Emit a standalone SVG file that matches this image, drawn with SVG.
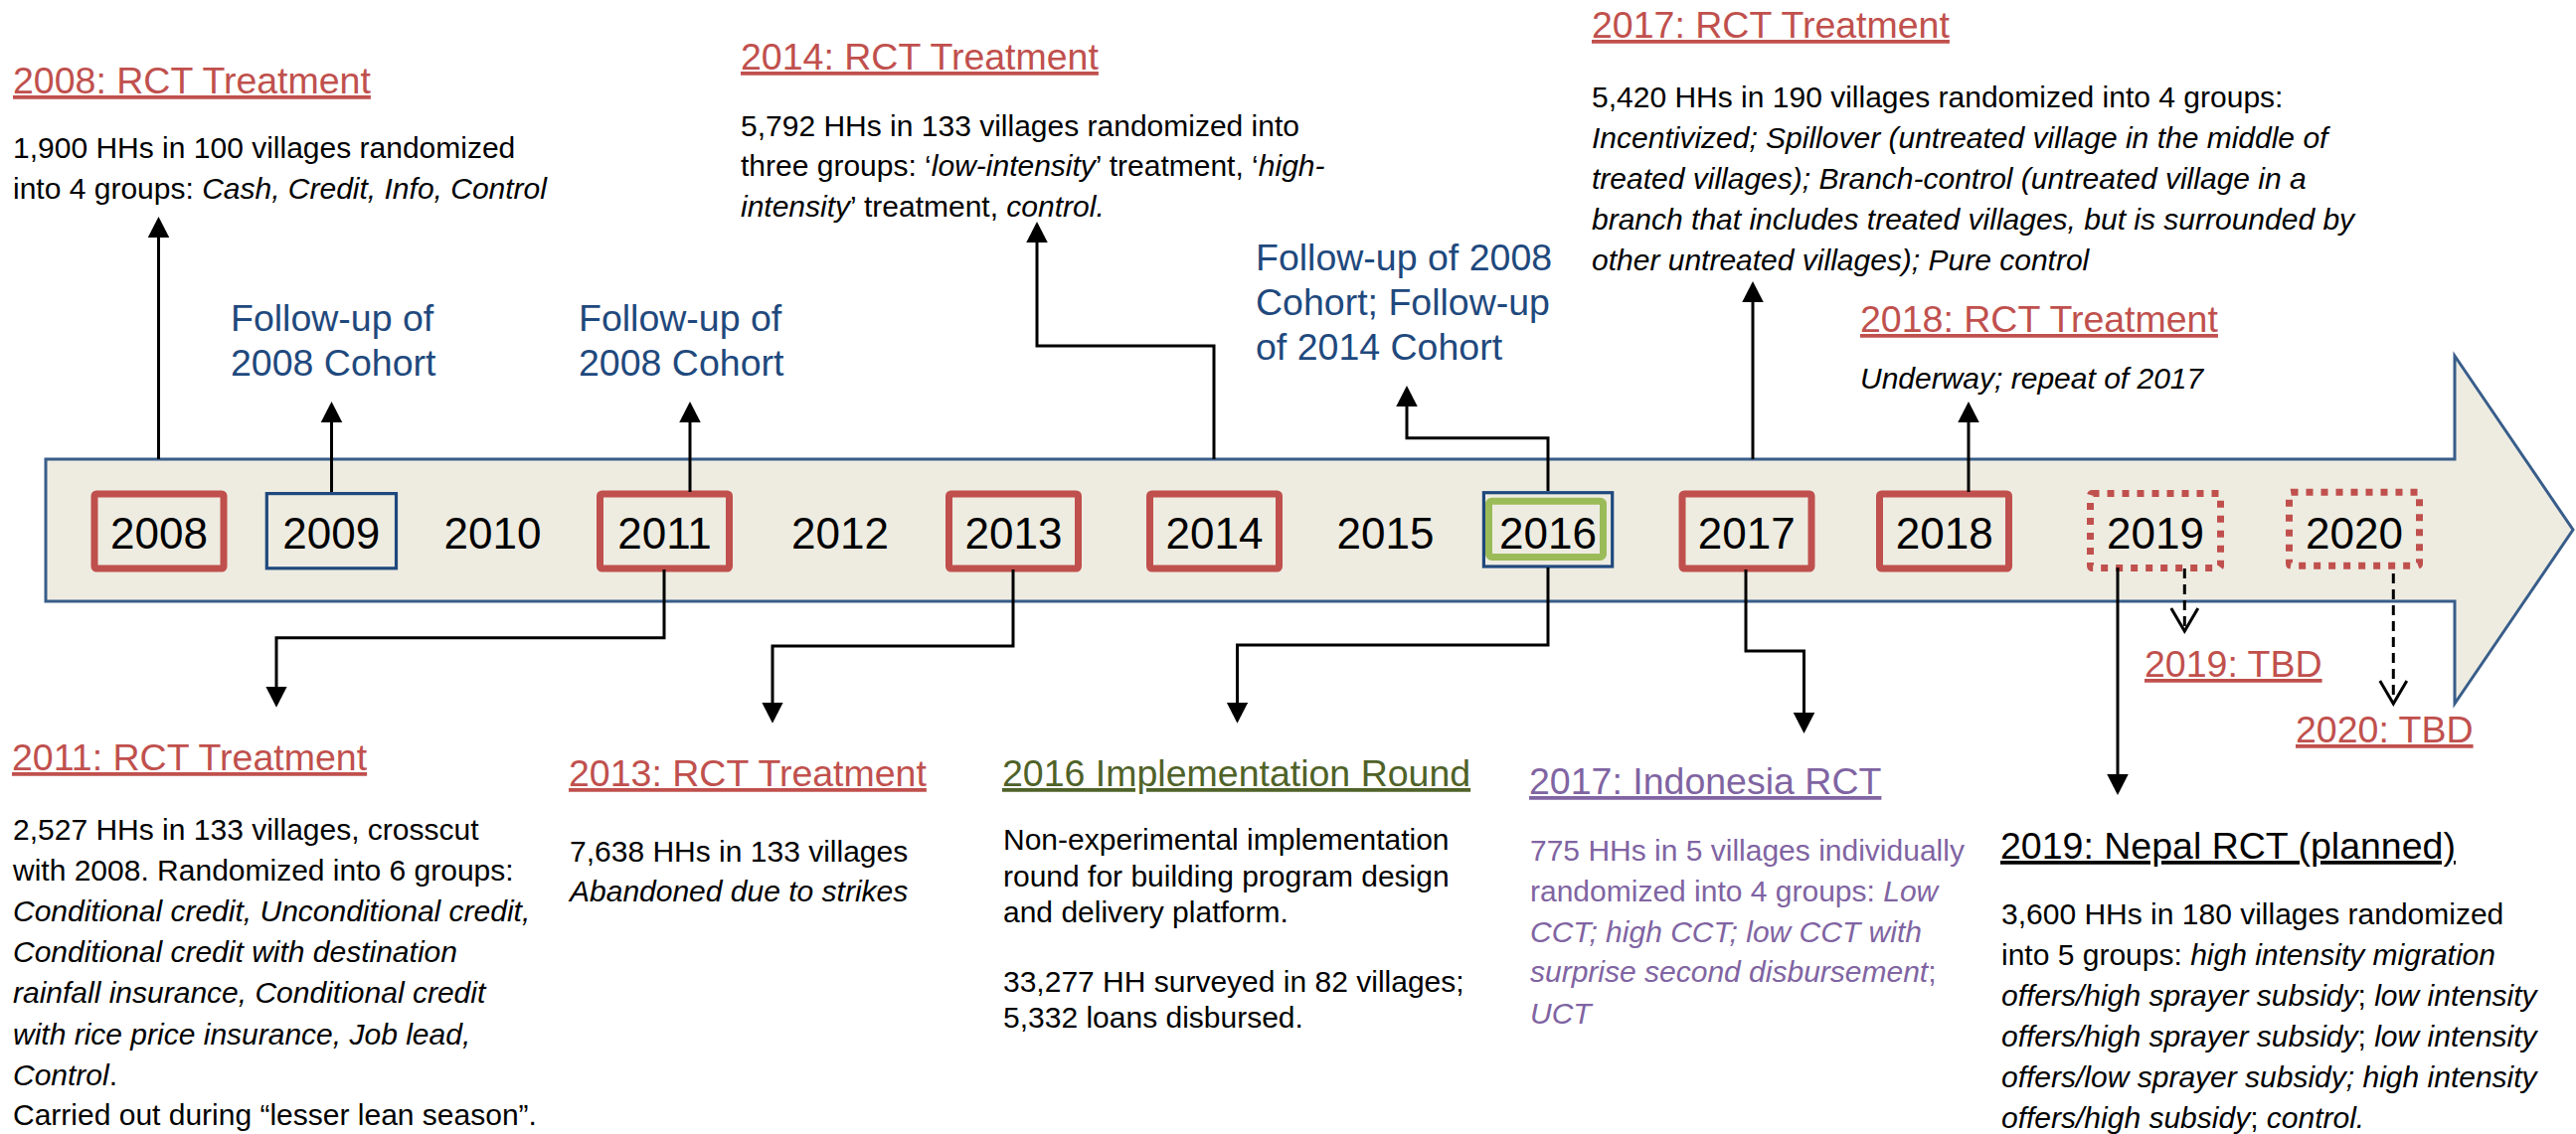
<svg xmlns="http://www.w3.org/2000/svg" width="2591" height="1141" viewBox="0 0 2591 1141">
<defs>
<style>
text{font-family:"Liberation Sans",Arial,sans-serif;}
.title{font-size:37.5px;text-decoration:underline;}
.red{fill:#C0504D;}
.green{fill:#4F6228;}
.purple{fill:#8064A2;}
.blk{fill:#000;}
.body{font-size:30px;}
.i{font-style:italic;}
.fu{font-size:37.5px;fill:#1F497D;}
.yr{font-size:44px;text-anchor:middle;fill:#000;}
.boxr{fill:none;stroke:#C0504D;stroke-width:7;}
.boxb{fill:none;stroke:#1F497D;stroke-width:3.2;}
.boxg{fill:none;stroke:#9BBB59;stroke-width:7;}
.boxd{fill:none;stroke:#C0504D;stroke-width:7;stroke-dasharray:7 8;}
.conn{fill:none;stroke:#000;stroke-width:3;marker-end:url(#ah);}
.dash{fill:none;stroke:#000;stroke-width:3;stroke-dasharray:10 6;marker-end:url(#oh);}
</style>
<marker id="ah" markerUnits="userSpaceOnUse" markerWidth="22" markerHeight="22" refX="13" refY="10.75" orient="auto"><path d="M0,0 L21,10.75 L0,21.5 z" fill="#000"/></marker>
<marker id="oh" markerUnits="userSpaceOnUse" markerWidth="30" markerHeight="30" refX="23" refY="15" orient="auto"><path d="M1,1.5 L24,15 L1,28.5" fill="none" stroke="#000" stroke-width="3" stroke-dasharray="none"/></marker>
</defs>

<g id="timeline">
<polygon points="46,462 2469,462 2469,358 2588,533 2469,708 2469,605 46,605" fill="#EEECE1" stroke="#385D8A" stroke-width="3"/>
</g>

<g id="year-2008"><rect class="boxr" x="95" y="497" width="130" height="75" rx="2"/><text class="yr" x="160" y="551.5">2008</text></g>
<g id="year-2009"><rect class="boxb" x="268.3" y="496.6" width="130.2" height="75.2"/><text class="yr" x="333.3" y="551.5">2009</text></g>
<g id="year-2010"><text class="yr" x="495.5" y="551.5">2010</text></g>
<g id="year-2011"><rect class="boxr" x="603.5" y="497" width="130" height="75" rx="2"/><text class="yr" x="668.5" y="551.5">2011</text></g>
<g id="year-2012"><text class="yr" x="845" y="551.5">2012</text></g>
<g id="year-2013"><rect class="boxr" x="954.5" y="497" width="130" height="75" rx="2"/><text class="yr" x="1019.5" y="551.5">2013</text></g>
<g id="year-2014"><rect class="boxr" x="1156.5" y="497" width="130" height="75" rx="2"/><text class="yr" x="1221.5" y="551.5">2014</text></g>
<g id="year-2015"><text class="yr" x="1393.5" y="551.5">2015</text></g>
<g id="year-2016"><rect class="boxb" x="1492.4" y="495.7" width="129.3" height="74.3"/><rect class="boxg" x="1497.5" y="504.2" width="115" height="56.3" rx="3"/><text class="yr" x="1557" y="551.5">2016</text></g>
<g id="year-2017"><rect class="boxr" x="1692" y="497" width="130" height="75" rx="2"/><text class="yr" x="1756.7" y="551.5">2017</text></g>
<g id="year-2018"><rect class="boxr" x="1890.5" y="497" width="130" height="75" rx="2"/><text class="yr" x="1955.7" y="551.5">2018</text></g>
<g id="year-2019"><rect class="boxd" x="2102.5" y="496.5" width="131" height="75" rx="2"/><text class="yr" x="2168" y="551.5">2019</text></g>
<g id="year-2020"><rect class="boxd" x="2302.5" y="495.2" width="131" height="74" rx="2"/><text class="yr" x="2368" y="551.5">2020</text></g>

<g id="connectors">
<path class="conn" d="M159.5,462 V226"/>
<path class="conn" d="M333.5,495 V412"/>
<path class="conn" d="M694,495 V412"/>
<path class="conn" d="M1221,462 V348 H1043 V231"/>
<path class="conn" d="M1557,494 V440.7 H1415 V396"/>
<path class="conn" d="M1763,462 V291"/>
<path class="conn" d="M1980,495 V412"/>
<path class="conn" d="M668,573 V641.7 H278 V703.7"/>
<path class="conn" d="M1019,573 V650 H777 V719.7"/>
<path class="conn" d="M1557,571 V649 H1244.5 V719.7"/>
<path class="conn" d="M1756,573 V655 H1814.5 V730"/>
<path class="conn" d="M2130,571 V792"/>
<path class="dash" d="M2197.3,572 V634"/>
<path class="dash" d="M2407.3,577 V707"/>
</g>

<g id="note-2008">
<text class="title red" x="13" y="94">2008: RCT Treatment</text>
<text class="body blk" x="13" y="159">1,900 HHs in 100 villages randomized</text>
<text class="body blk" x="13" y="200">into 4 groups: <tspan class="i">Cash, Credit, Info, Control</tspan></text>
</g>

<g id="note-2009">
<text class="fu" x="232" y="333">Follow-up of</text>
<text class="fu" x="232" y="378">2008 Cohort</text>
</g>

<g id="note-2011-followup">
<text class="fu" x="582" y="333">Follow-up of</text>
<text class="fu" x="582" y="378">2008 Cohort</text>
</g>

<g id="note-2014">
<text class="title red" x="745" y="70">2014: RCT Treatment</text>
<text class="body blk" x="745" y="137">5,792 HHs in 133 villages randomized into</text>
<text class="body blk" x="745" y="177">three groups: ‘<tspan class="i">low-intensity</tspan>’ treatment, ‘<tspan class="i">high-</tspan></text>
<text class="body blk" x="745" y="218"><tspan class="i">intensity</tspan>’ treatment, <tspan class="i">control.</tspan></text>
</g>

<g id="note-2016-followup">
<text class="fu" x="1263" y="272">Follow-up of 2008</text>
<text class="fu" x="1263" y="317">Cohort; Follow-up</text>
<text class="fu" x="1263" y="362">of 2014 Cohort</text>
</g>

<g id="note-2017">
<text class="title red" x="1601" y="38">2017: RCT Treatment</text>
<text class="body blk" x="1601" y="108">5,420 HHs in 190 villages randomized into 4 groups:</text>
<text class="body blk i" x="1601" y="149">Incentivized; Spillover (untreated village in the middle of</text>
<text class="body blk i" x="1601" y="190">treated villages); Branch-control (untreated village in a</text>
<text class="body blk i" x="1601" y="231">branch that includes treated villages, but is surrounded by</text>
<text class="body blk i" x="1601" y="272">other untreated villages); Pure control</text>
</g>

<g id="note-2018">
<text class="title red" x="1871" y="334">2018: RCT Treatment</text>
<text class="body blk i" x="1871" y="391">Underway; repeat of 2017</text>
</g>

<g id="note-2011">
<text class="title red" x="12" y="775">2011: RCT Treatment</text>
<text class="body blk" x="13" y="845">2,527 HHs in 133 villages, crosscut</text>
<text class="body blk" x="13" y="886">with 2008. Randomized into 6 groups:</text>
<text class="body blk i" x="13" y="927">Conditional credit, Unconditional credit,</text>
<text class="body blk i" x="13" y="968">Conditional credit with destination</text>
<text class="body blk i" x="13" y="1009">rainfall insurance, Conditional credit</text>
<text class="body blk i" x="13" y="1051">with rice price insurance, Job lead,</text>
<text class="body blk" x="13" y="1092"><tspan class="i">Control</tspan>.</text>
<text class="body blk" x="13" y="1132">Carried out during “lesser lean season”.</text>
</g>

<g id="note-2013">
<text class="title red" x="572" y="791">2013: RCT Treatment</text>
<text class="body blk" x="573" y="867">7,638 HHs in 133 villages</text>
<text class="body blk i" x="573" y="907">Abandoned due to strikes</text>
</g>

<g id="note-2016">
<text class="title green" x="1008" y="791">2016 Implementation Round</text>
<text class="body blk" x="1009" y="855">Non-experimental implementation</text>
<text class="body blk" x="1009" y="892">round for building program design</text>
<text class="body blk" x="1009" y="928">and delivery platform.</text>
<text class="body blk" x="1009" y="998">33,277 HH surveyed in 82 villages;</text>
<text class="body blk" x="1009" y="1034">5,332 loans disbursed.</text>
</g>

<g id="note-2017-indonesia">
<text class="title purple" x="1538" y="799">2017: Indonesia RCT</text>
<text class="body purple" x="1539" y="866">775 HHs in 5 villages individually</text>
<text class="body purple" x="1539" y="907">randomized into 4 groups: <tspan class="i">Low</tspan></text>
<text class="body purple i" x="1539" y="948">CCT; high CCT; low CCT with</text>
<text class="body purple" x="1539" y="988"><tspan class="i">surprise second disbursement</tspan>;</text>
<text class="body purple i" x="1539" y="1030">UCT</text>
</g>

<g id="note-2019-nepal">
<text class="title blk" x="2012" y="864">2019: Nepal RCT (planned)</text>
<text class="body blk" x="2013" y="930">3,600 HHs in 180 villages randomized</text>
<text class="body blk" x="2013" y="971">into 5 groups: <tspan class="i">high intensity migration</tspan></text>
<text class="body blk" x="2013" y="1012"><tspan class="i">offers/high sprayer subsidy</tspan>; <tspan class="i">low intensity</tspan></text>
<text class="body blk" x="2013" y="1053"><tspan class="i">offers/high sprayer subsidy</tspan>; <tspan class="i">low intensity</tspan></text>
<text class="body blk i" x="2013" y="1094">offers/low sprayer subsidy; high intensity</text>
<text class="body blk" x="2013" y="1135"><tspan class="i">offers/high subsidy</tspan>; <tspan class="i">control.</tspan></text>
</g>

<g id="note-2019-tbd">
<text class="title red" x="2157" y="681">2019: TBD</text>
</g>
<g id="note-2020-tbd">
<text class="title red" x="2309" y="747">2020: TBD</text>
</g>
</svg>
